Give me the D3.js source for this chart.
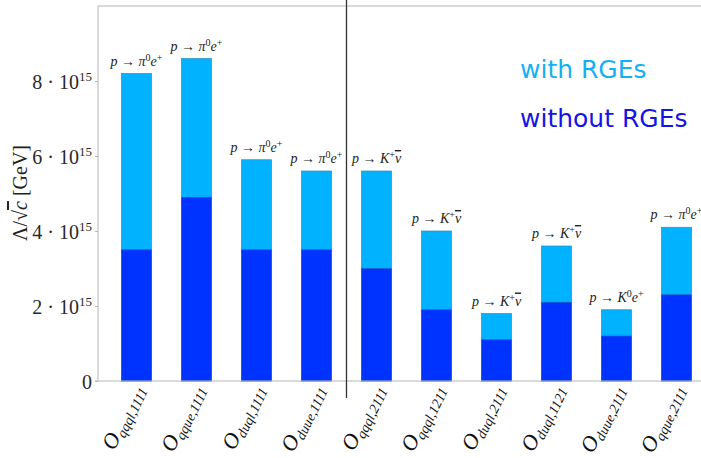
<!DOCTYPE html>
<html><head><meta charset="utf-8">
<script src="https://cdn.jsdelivr.net/npm/d3@7"></script>
<style>body{margin:0;background:#fff}svg{display:block}</style>
</head><body>
<script>
// ---- data (values in units of 10^15 GeV) ----
const categories = ["qqql,1111","qque,1111","duql,1111","duue,1111","qqql,2111","qqql,1211","duql,2111","duql,1121","duue,2111","qque,2111"];
const withRGEs    = [8.2, 8.6, 5.9, 5.6, 5.6, 4.0, 1.8, 3.6, 1.9, 4.1];
const withoutRGEs = [3.5, 4.9, 3.5, 3.5, 3.0, 1.9, 1.1, 2.1, 1.2, 2.3];
const channels = [
  ["π","0","e","+"],["π","0","e","+"],["π","0","e","+"],["π","0","e","+"],
  ["K","+","ν",""],["K","+","ν",""],["K","+","ν",""],["K","+","ν",""],
  ["K","0","e","+"],["π","0","e","+"]
];
const yTicks = [0, 2, 4, 6, 8];
const yTickMantissa = ["0","2","4","6","8"];
const legendLabels = ["with RGEs","without RGEs"];

const W = 701, H = 458;
const colLight = "#00b2ff", colDark = "#0033ff";
const svg = d3.select("body").append("svg").attr("width", W).attr("height", H);

const x = d3.scaleBand().domain(categories).range([106.5, 706.5]).paddingInner(0.5).paddingOuter(0.25);
const y = d3.scaleLinear().domain([0, 10]).range([381, 6]);

// frame
svg.append("line").attr("x1", 98).attr("x2", 705).attr("y1", 6).attr("y2", 6).attr("stroke", "#b5b5b5").attr("stroke-width", 1);

// bars
const bars = svg.append("g");
bars.selectAll("rect.l").data(categories).join("rect").attr("class","l")
  .attr("x", d => x(d)).attr("width", x.bandwidth())
  .attr("y", (d,i) => y(withRGEs[i])).attr("height", (d,i) => y(0) - y(withRGEs[i]))
  .attr("fill", colLight).attr("stroke", "#2a8ec4").attr("stroke-width", 0.7);
bars.selectAll("rect.d").data(categories).join("rect").attr("class","d")
  .attr("x", d => x(d)).attr("width", x.bandwidth())
  .attr("y", (d,i) => y(withoutRGEs[i])).attr("height", (d,i) => y(0) - y(withoutRGEs[i]))
  .attr("fill", colDark).attr("stroke", "#1f5fc8").attr("stroke-width", 0.7);

// y axis
const ya = svg.append("g").attr("transform", "translate(98,0)")
  .call(d3.axisLeft(y).tickValues(yTicks).tickSize(3).tickFormat(""));
ya.select(".domain").attr("stroke", "#b5b5b5").attr("d", `M-3,${y(0)}H0V6`);
ya.selectAll(".tick line").attr("stroke", "#b5b5b5");
ya.selectAll(".tick").each(function(d, i) {
  const t = d3.select(this).append("text").attr("x", -6).attr("y", 7)
    .attr("text-anchor", "end").attr("fill", "#2a2a2a")
    .style("font-family", "'Liberation Serif', serif").style("font-size", "20px");
  if (d === 0) { t.text(yTickMantissa[i]); return; }
  t.append("tspan").text(yTickMantissa[i] + " \u00b7 10");
  t.append("tspan").attr("dy", -8).style("font-size", "13px").text("15");
});

// x axis
const xa = svg.append("g").attr("transform", `translate(0,${y(0)})`)
  .call(d3.axisBottom(x).tickSize(0).tickFormat(""));
xa.select(".domain").attr("stroke", "#b5b5b5").attr("d", "M98,0H705");
xa.selectAll(".tick").each(function(d) {
  const g = d3.select(this).append("g").attr("transform", "translate(8,8) rotate(-64)");
  const t = g.append("text").attr("text-anchor", "end").attr("fill", "#111")
    .style("font-family", "'Liberation Serif', serif");
  t.append("tspan").style("font-style", "italic").style("font-size", "22px").text("O");
  t.append("tspan").attr("dy", 4).style("font-style", "italic").style("font-size", "14px").text(d);
});

// annotations above bars
svg.append("g").selectAll("text").data(categories).join("text")
  .attr("x", d => x(d) + x.bandwidth() / 2)
  .attr("y", (d,i) => y(withRGEs[i]) - 8)
  .attr("text-anchor", "middle").attr("fill", "#222")
  .style("font-family", "'Liberation Serif', serif").style("font-size", "14px")
  .each(function(d, i) {
    const c = channels[i], t = d3.select(this);
    t.append("tspan").style("font-style", "italic").text("p");
    t.append("tspan").text(" \u2192 ");
    t.append("tspan").style("font-style", "italic").text(c[0]);
    t.append("tspan").attr("dy", -5).style("font-size", "10px").text(c[1]);
    const l = t.append("tspan").attr("dy", 5).style("font-style", "italic").text(c[2]);
    if (c[2] === "ν") l.style("text-decoration", "overline");
    if (c[3]) t.append("tspan").attr("dy", -5).style("font-size", "10px").text(c[3]);
  });

// separator line
const sep = (x(categories[3]) + x.bandwidth() + x(categories[4])) / 2;
svg.append("line").attr("x1", sep).attr("x2", sep).attr("y1", 0).attr("y2", 398)
  .attr("stroke", "#333").attr("stroke-width", 1.3);

// y label
const yl = svg.append("text").attr("transform", "translate(27,193) rotate(-90)")
  .attr("text-anchor", "middle").attr("fill", "#222")
  .style("font-family", "'Liberation Serif', serif").style("font-size", "20px");
yl.append("tspan").text("\u039b/\u221a");
yl.append("tspan").style("font-style", "italic").style("text-decoration", "overline").text("c");
yl.append("tspan").text("  [GeV]");

// legend
const leg = svg.append("g");
leg.selectAll("text").data(legendLabels).join("text")
  .attr("x", 520).attr("y", (d,i) => 78 + i * 49)
  .attr("fill", (d,i) => i ? "#1414e6" : "#14b0f5")
  .style("font-family", "'DejaVu Sans', sans-serif").style("font-size", "25px")
  .text(d => d);
</script>
</body></html>
